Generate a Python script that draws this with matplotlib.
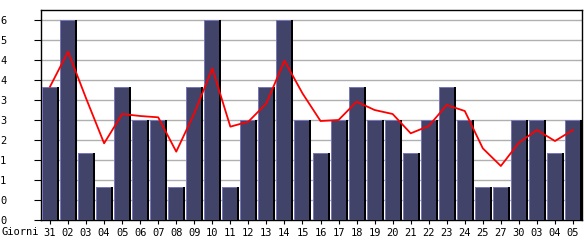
import matplotlib
matplotlib.use("Agg")
import matplotlib.pyplot as plt
import numpy as np

labels = ["31", "02", "03", "04", "05", "06", "07", "08", "09", "10",
          "11", "12", "13", "14", "15", "16", "17", "18", "19", "20",
          "21", "22", "23", "24", "25", "27", "30", "03", "04", "05"]
values = [4, 6, 2, 1, 4, 3, 3, 1, 4, 6,
          1, 3, 4, 6, 3, 2, 3, 4, 3, 3,
          2, 3, 4, 3, 1, 1, 3, 3, 2, 3]
trend = [4.0, 5.05, 3.65, 2.3, 3.18, 3.12, 3.08, 2.05, 3.2, 4.55,
         2.8, 2.95, 3.5, 4.78, 3.8, 2.97, 3.0, 3.55, 3.3, 3.18,
         2.6, 2.82, 3.45, 3.27, 2.15, 1.62, 2.32, 2.7, 2.37, 2.7]
yticks = [0, 0.6, 1.2, 1.8, 2.4, 3.0, 3.6, 4.2, 4.8, 5.4, 6.0]
ytick_labels = [str(int(t + 1e-9)) for t in yticks]

W, H = 585, 240
fig = plt.figure(figsize=(W / 100, H / 100), dpi=100)
ax = fig.add_axes([41 / W, 20 / H, 541 / W, 210 / H])

x = np.arange(len(values))
px = 1.0 / 18.03   # one pixel in x data units
py = 6.3 / 210     # one pixel in y data units

left = x - 0.5 + px
full_w = 17 * px
# black shadow
ax.bar(left, values, width=full_w, align="edge", color="#000000", zorder=2, linewidth=0)
# light edge
ax.bar(left, values, width=full_w - 2 * px, align="edge", color="#7878b8", zorder=3, linewidth=0)
# fill
ax.bar(left + px, np.array(values) - py, width=full_w - 3 * px, align="edge",
       color="#414369", zorder=4, linewidth=0)

ax.plot(x, trend, color="#ff0000", linewidth=1.3, zorder=5)

ax.set_xlim(-0.5, len(values) - 0.5)
ax.set_ylim(0, 6.3)
ax.set_yticks(yticks)
ax.set_yticklabels(ytick_labels)
ax.set_xticks(x)
ax.set_xticklabels(labels)
ax.yaxis.grid(True, color="#b0b0b0", linewidth=1.0, zorder=0)
ax.set_axisbelow(True)

font = dict(family="DejaVu Sans Mono", size=7.5)
for lab in ax.get_xticklabels() + ax.get_yticklabels():
    lab.set_fontfamily(font["family"])
    lab.set_fontsize(font["size"])
    lab.set_color("#000000")
ax.tick_params(axis="y", length=5, width=0.8, pad=20, direction="out")
ax.tick_params(axis="x", length=3, width=0.8, pad=3, direction="out")
for s in ax.spines.values():
    s.set_linewidth(1.0)
    s.set_color("#000000")

fig.text(1 / W, 1 - 232 / H, "Giorni", ha="left", va="center", **font)

fig.savefig("out.png", dpi=100)
